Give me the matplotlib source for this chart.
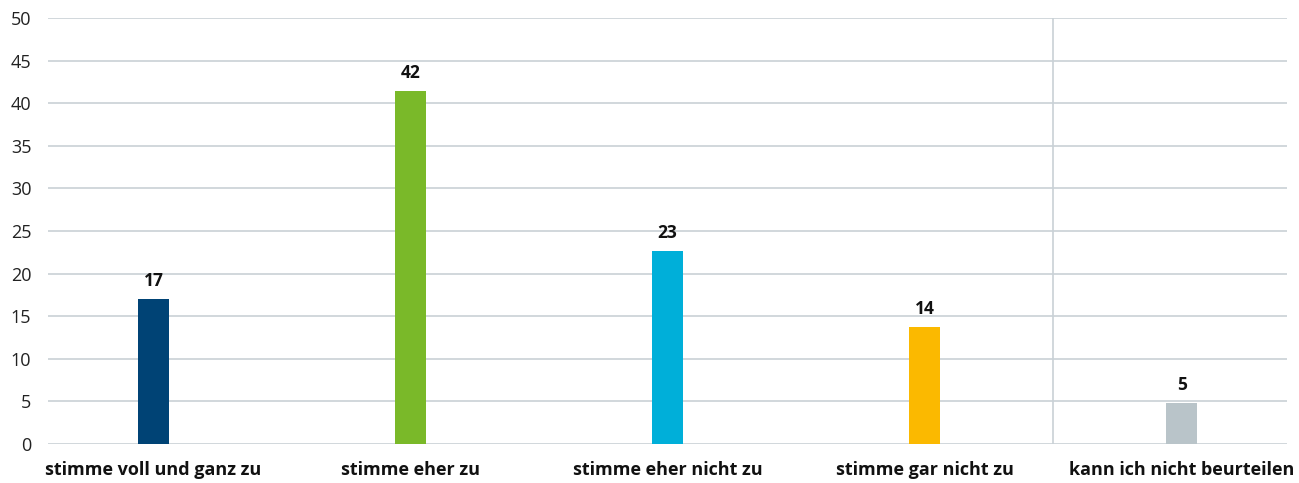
import matplotlib
matplotlib.use("Agg")
import matplotlib.pyplot as plt

categories = ["stimme voll und ganz zu", "stimme eher zu", "stimme eher nicht zu",
              "stimme gar nicht zu", "kann ich nicht beurteilen"]
values = [17.0, 41.4, 22.6, 13.7, 4.8]
labels = ["17", "42", "23", "14", "5"]
colors = ["#004375", "#7ab929", "#00afd9", "#fbb900", "#b9c4c9"]
yticks = [0, 5, 10, 15, 20, 25, 30, 35, 40, 45, 50]

plt.rcParams['font.family'] = ['Open Sans', 'DejaVu Sans']
fig = plt.figure(figsize=(12.99, 4.83), dpi=100)
ax = fig.add_axes([48/1299, 1-444/483, (1287-48)/1299, (444-18)/483])

x = list(range(len(categories)))
ax.bar(x, values, width=0.12, color=colors, zorder=3)
for xi, v, l in zip(x, values, labels):
    ax.text(xi, v + 1.1, l, ha='center', va='bottom', fontsize=12.5, fontweight='bold', color='#111111')

ax.set_xlim(-0.41, 4.41)
ax.set_ylim(0, 50)
ax.set_yticks(yticks)
ax.set_yticklabels([str(t) for t in yticks], fontsize=13, color='#222222')
ax.set_xticks(x)
ax.set_xticklabels(categories, fontsize=13, fontweight='bold', color='#111111')
ax.tick_params(axis='both', length=0)
ax.tick_params(axis='y', pad=12)
ax.tick_params(axis='x', pad=12)
ax.grid(axis='y', color='#c9d1d6', linewidth=1.2, zorder=0)
for s in ax.spines.values():
    s.set_visible(False)
ax.axvline(3.5, color='#c9d1d6', linewidth=1.2, zorder=1)

fig.savefig("out.png", dpi=100)
